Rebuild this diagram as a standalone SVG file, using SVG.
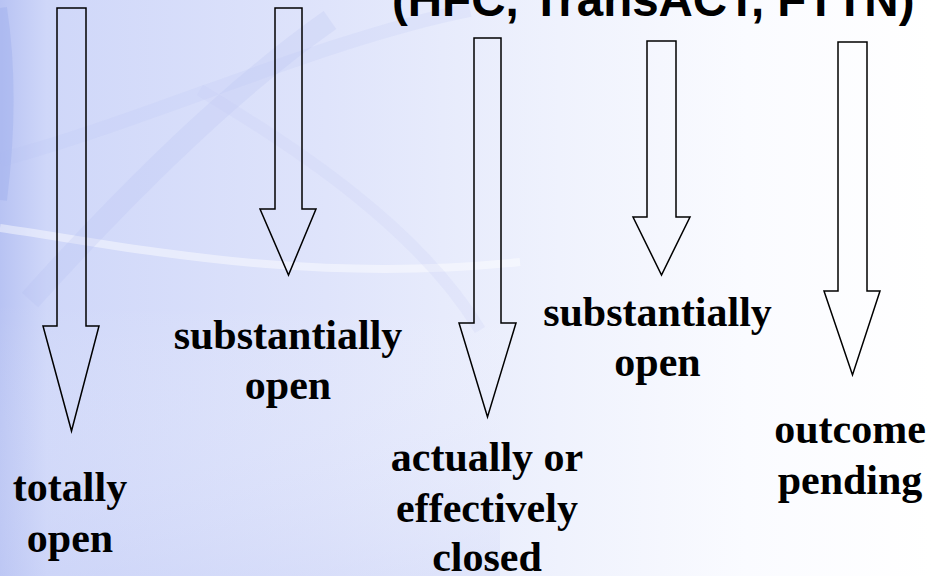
<svg xmlns="http://www.w3.org/2000/svg" width="932" height="576" viewBox="0 0 932 576">
  <defs>
    <linearGradient id="bg" x1="0" y1="0" x2="1" y2="0">
      <stop offset="0" stop-color="#b8c3f3"/>
      <stop offset="0.05" stop-color="#cfd7f9"/>
      <stop offset="0.35" stop-color="#dfe4fb"/>
      <stop offset="0.6" stop-color="#eff2fd"/>
      <stop offset="0.8" stop-color="#fafbff"/>
      <stop offset="1" stop-color="#ffffff"/>
    </linearGradient>
    <linearGradient id="vfade" x1="0" y1="0" x2="0" y2="1">
      <stop offset="0" stop-color="#ffffff" stop-opacity="0"/>
      <stop offset="1" stop-color="#c8d0f6" stop-opacity="0.3"/>
    </linearGradient>
  </defs>
  <style>
    .arrow { fill: none; stroke: #000000; stroke-width: 1.5; stroke-linejoin: miter; }
    .lbl { font-family: "Liberation Serif", "Times New Roman", serif; font-weight: bold; font-size: 42px; fill: #000000; text-anchor: middle; }
    .title { font-family: "Liberation Sans", Arial, sans-serif; font-weight: bold; font-size: 47.5px; fill: #000000; }
    .deco { fill: none; }
  </style>

  <g id="background">
    <rect x="0" y="0" width="932" height="576" fill="url(#bg)"/>
    <rect x="0" y="300" width="500" height="276" fill="url(#vfade)"/>
    <path class="deco" d="M0,228 C120,245 300,285 520,262" stroke="#ffffff" stroke-opacity="0.45" stroke-width="8"/>
    <path class="deco" d="M30,300 C120,200 230,90 330,20" stroke="#aab8f0" stroke-opacity="0.18" stroke-width="22"/>
    <path class="deco" d="M0,160 C150,120 320,40 470,10" stroke="#b8c4f4" stroke-opacity="0.18" stroke-width="14"/>
    <path class="deco" d="M0,8 C8,60 10,120 0,200" stroke="#98a8ec" stroke-opacity="0.35" stroke-width="14"/>
    <path class="deco" d="M200,90 C300,150 420,230 480,330" stroke="#c0caf6" stroke-opacity="0.18" stroke-width="12"/>
  </g>

  <text id="title" class="title" x="392" y="16">(HFC, TransACT, FTTN)</text>

  <g id="connectors">
    <g id="arrow1"><path class="arrow" d="M57,8 H86 V326 H99 L71.5,431 L43,326 H57 Z"/></g>
    <g id="arrow2"><path class="arrow" d="M275,8 H302 V209 H316 L288.5,275 L260,209 H275 Z"/></g>
    <g id="arrow3"><path class="arrow" d="M474,38 H501 V323 H516 L487.5,417 L459,323 H474 Z"/></g>
    <g id="arrow4"><path class="arrow" d="M647,41 H676 V217 H690 L661.5,275 L633,217 H647 Z"/></g>
    <g id="arrow5"><path class="arrow" d="M838,42 H867 V291 H880 L852.5,375 L824,291 H838 Z"/></g>
  </g>

  <g id="node-totally-open">
    <text class="lbl" x="70" y="501">totally</text>
    <text class="lbl" x="70" y="552">open</text>
  </g>
  <g id="node-substantially-open-1">
    <text class="lbl" x="288" y="349">substantially</text>
    <text class="lbl" x="288" y="399">open</text>
  </g>
  <g id="node-actually-closed">
    <text class="lbl" x="487" y="471">actually or</text>
    <text class="lbl" x="487" y="522">effectively</text>
    <text class="lbl" x="487" y="571">closed</text>
  </g>
  <g id="node-substantially-open-2">
    <text class="lbl" x="657.5" y="326">substantially</text>
    <text class="lbl" x="657.5" y="376">open</text>
  </g>
  <g id="node-outcome-pending">
    <text class="lbl" x="850" y="443">outcome</text>
    <text class="lbl" x="850" y="494">pending</text>
  </g>
</svg>
